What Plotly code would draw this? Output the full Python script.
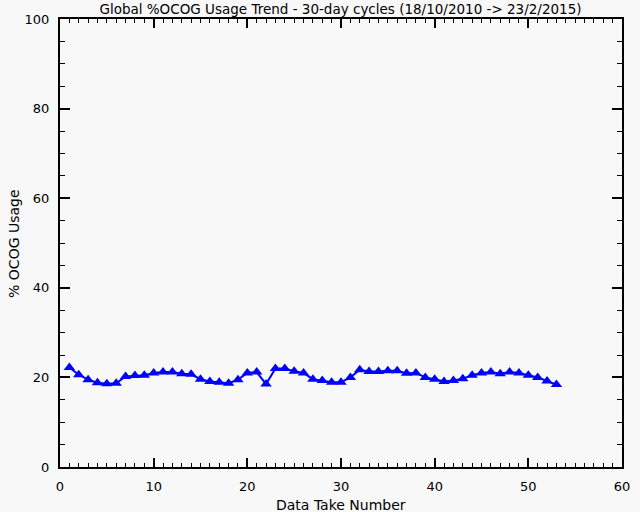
import plotly.graph_objects as go

take_number = list(range(1, 54))
ocog_usage = [22.2, 20.6, 19.5, 18.8, 18.6, 18.7, 20.2, 20.4, 20.5, 21.0,
              21.2, 21.2, 20.8, 20.7, 19.6, 19.1, 18.9, 18.7, 19.5, 21.0,
              21.2, 18.5, 22.0, 22.0, 21.4, 21.0, 19.6, 19.3, 18.9, 18.9,
              20.0, 21.7, 21.3, 21.3, 21.5, 21.5, 20.9, 21.0, 20.0, 19.6,
              19.1, 19.3, 19.7, 20.5, 21.0, 21.2, 20.8, 21.2, 21.0, 20.5,
              20.0, 19.2, 18.4]

title_text = "Global %OCOG Usage Trend - 30-day cycles (18/10/2010 -> 23/2/2015)"
x_title = "Data Take Number"
y_title = "% OCOG Usage"
FONT = "DejaVu Sans"
BG = "#f8f8f8"

fig = go.Figure()
fig.add_trace(go.Scatter(
    x=take_number, y=ocog_usage, mode="lines+markers",
    line=dict(color="#0000ff", width=2),
    marker=dict(symbol="triangle-up", size=10, color="#0000ff"),
    showlegend=False,
))

axis_common = dict(
    showgrid=False, zeroline=False, showline=True, linecolor="black",
    linewidth=2, mirror="ticks", ticks="inside", tickcolor="black",
    tickwidth=2, automargin=False,
    tickfont=dict(family=FONT, size=13, color="black"),
)

fig.update_layout(
    width=640, height=512,
    paper_bgcolor=BG, plot_bgcolor=BG,
    margin=dict(l=60, r=18, t=19, b=45, autoexpand=False),
    title=dict(text=title_text, x=0.532, xanchor="center", y=1 - 9 / 512, yanchor="middle",
               font=dict(family=FONT, size=13.5, color="black"), automargin=False),
    xaxis=dict(range=[0, 60], dtick=10, ticklen=9, ticklabelstandoff=6,
               minor=dict(dtick=1, ticklen=4, ticks="inside", tickcolor="black", tickwidth=1),
               **axis_common),
    yaxis=dict(range=[0, 100], dtick=20, ticklen=10, ticklabelstandoff=6,
               minor=dict(dtick=5, ticklen=5, ticks="inside", tickcolor="black", tickwidth=1),
               **axis_common),
    annotations=[
        dict(text=x_title, xref="paper", yref="paper", x=0.5, y=-0.085,
             xanchor="center", yanchor="middle", showarrow=False,
             font=dict(family=FONT, size=14, color="black")),
        dict(text=y_title, xref="paper", yref="paper", x=-0.082, y=0.5,
             xanchor="center", yanchor="middle", textangle=-90, showarrow=False,
             font=dict(family=FONT, size=14, color="black")),
    ],
)

fig.write_html("out.html", config={"displayModeBar": False},
               post_script="document.body.style.margin='0';")
